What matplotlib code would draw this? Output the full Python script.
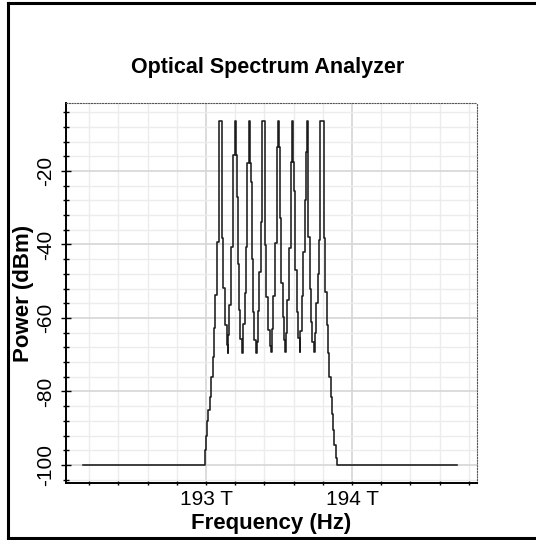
import matplotlib
matplotlib.use("Agg")
from matplotlib import pyplot as plt
from matplotlib.lines import Line2D
import numpy as np

plt.rcParams['font.family'] = ['Liberation Sans', 'DejaVu Sans']

# OSA trace (THz, dBm), drawn as steps
freq_thz = [192.160,
            192.994, 193.002, 193.009, 193.016, 193.024, 193.036, 193.046, 193.055, 193.064, 193.075,
            193.091, 193.110, 193.119, 193.133, 193.142, 193.150,
            193.151, 193.160, 193.173, 193.185, 193.196, 193.203, 193.209, 193.217, 193.226, 193.235, 193.245,
            193.250, 193.256, 193.264, 193.272, 193.283, 193.292, 193.299, 193.305, 193.313, 193.322, 193.331, 193.341,
            193.347, 193.356, 193.366, 193.376, 193.384, 193.404, 193.413, 193.424, 193.436, 193.444,
            193.449, 193.459, 193.470, 193.485, 193.493, 193.500, 193.505, 193.514, 193.524, 193.534, 193.544,
            193.549, 193.558, 193.568, 193.583, 193.591, 193.598, 193.602, 193.610, 193.620, 193.630, 193.641,
            193.647, 193.656, 193.666, 193.676, 193.684, 193.689, 193.696, 193.700, 193.709, 193.719, 193.729, 193.739,
            193.745, 193.754, 193.764, 193.772, 193.783, 193.810, 193.815, 193.827, 193.838, 193.845, 193.854,
            193.862, 193.870, 193.878, 193.888, 193.900, 194.720]
power_dbm = [-100.0,
             -96.0, -92.0, -88.0, -85.0, -81.4, -76.0, -70.5, -62.7, -53.7, -39.2,
             -6.4, -38.2, -51.8, -61.9, -67.3, -69.5,
             -64.6, -56.5, -40.6, -15.6, -6.4, -15.6, -27.0, -45.2, -57.9, -65.6, -69.5,
             -68.8, -61.5, -53.3, -40.6, -17.8, -6.4, -17.8, -22.9, -44.0, -58.5, -66.0, -69.5,
             -66.5, -58.0, -47.5, -33.8, -6.4, -40.1, -54.2, -63.3, -67.5, -69.2,
             -63.0, -54.0, -39.6, -13.4, -6.4, -13.4, -32.8, -50.6, -59.6, -66.0, -69.2,
             -64.0, -55.0, -41.0, -17.5, -6.4, -17.5, -25.5, -47.0, -58.5, -65.5, -69.2,
             -63.5, -54.0, -42.0, -27.9, -14.7, -6.4, -14.7, -38.0, -52.0, -61.0, -66.5, -69.2,
             -64.0, -56.0, -48.0, -38.8, -6.4, -38.3, -53.0, -62.0, -69.6, -76.0, -81.4,
             -86.0, -90.5, -94.5, -98.0, -100.0, -100.0]

x_major = [193.0, 194.0]
x_labels = ['193 T', '194 T']
y_major = [-20, -40, -60, -80, -100]

fig = plt.figure(figsize=(5.36, 5.40), dpi=100)
ax = fig.add_axes([66/536, 1 - 483/540, (477-66)/536, (483-103)/540])

ax.plot(freq_thz, power_dbm, drawstyle='steps-post', color='#1c1c1c', lw=1.15, zorder=3)

ax.set_xlim(192.041, 194.856)
ax.set_ylim(-104.9, -1.5)

ax.set_xticks(x_major)
ax.set_xticklabels(x_labels)
ax.set_xticks(np.arange(192.2, 194.81, 0.2), minor=True)
ax.set_yticks(y_major)
ax.set_yticklabels([str(v) for v in y_major], rotation=90, va='center')
ax.set_yticks(np.arange(-4, -105, -4), minor=True)

ax.grid(which='minor', color='#ececec', lw=1.0, zorder=0)
ax.grid(which='major', color='#d6d6d6', lw=1.2, zorder=0)
ax.set_axisbelow(True)

ax.tick_params(axis='y', which='major', direction='inout', length=7, width=1, labelsize=15, pad=4)
ax.tick_params(axis='y', which='minor', direction='inout', length=4.5, width=1)
ax.tick_params(axis='x', which='major', direction='inout', length=3.5, width=1, labelsize=15, pad=3)
ax.tick_params(axis='x', which='minor', direction='inout', length=3.5, width=1)

for s in ['left', 'bottom']:
    ax.spines[s].set_linewidth(1.4)
    ax.spines[s].set_color('black')
for s in ['top', 'right']:
    ax.spines[s].set_linestyle((0, (1, 1.5)))
    ax.spines[s].set_linewidth(0.8)
    ax.spines[s].set_color('#555555')

ax.set_xlabel('Frequency (Hz)', fontsize=16, fontweight='bold', labelpad=3)
ax.set_ylabel('Power (dBm)', fontsize=16, fontweight='bold', labelpad=2)
fig.text(268/536, 1 - 67/540, 'Optical Spectrum Analyzer', fontsize=15.5, fontweight='bold',
         ha='center', va='center')

# outer frame
fig.add_artist(Line2D([8/536, 8/536], [0.004, 0.995], color='black', lw=2.2))
fig.add_artist(Line2D([8/536, 1.0], [0.995, 0.995], color='black', lw=2.2))
fig.add_artist(Line2D([8/536, 1.0], [0.004, 0.004], color='black', lw=2.2))

fig.savefig('out.png', dpi=100)
